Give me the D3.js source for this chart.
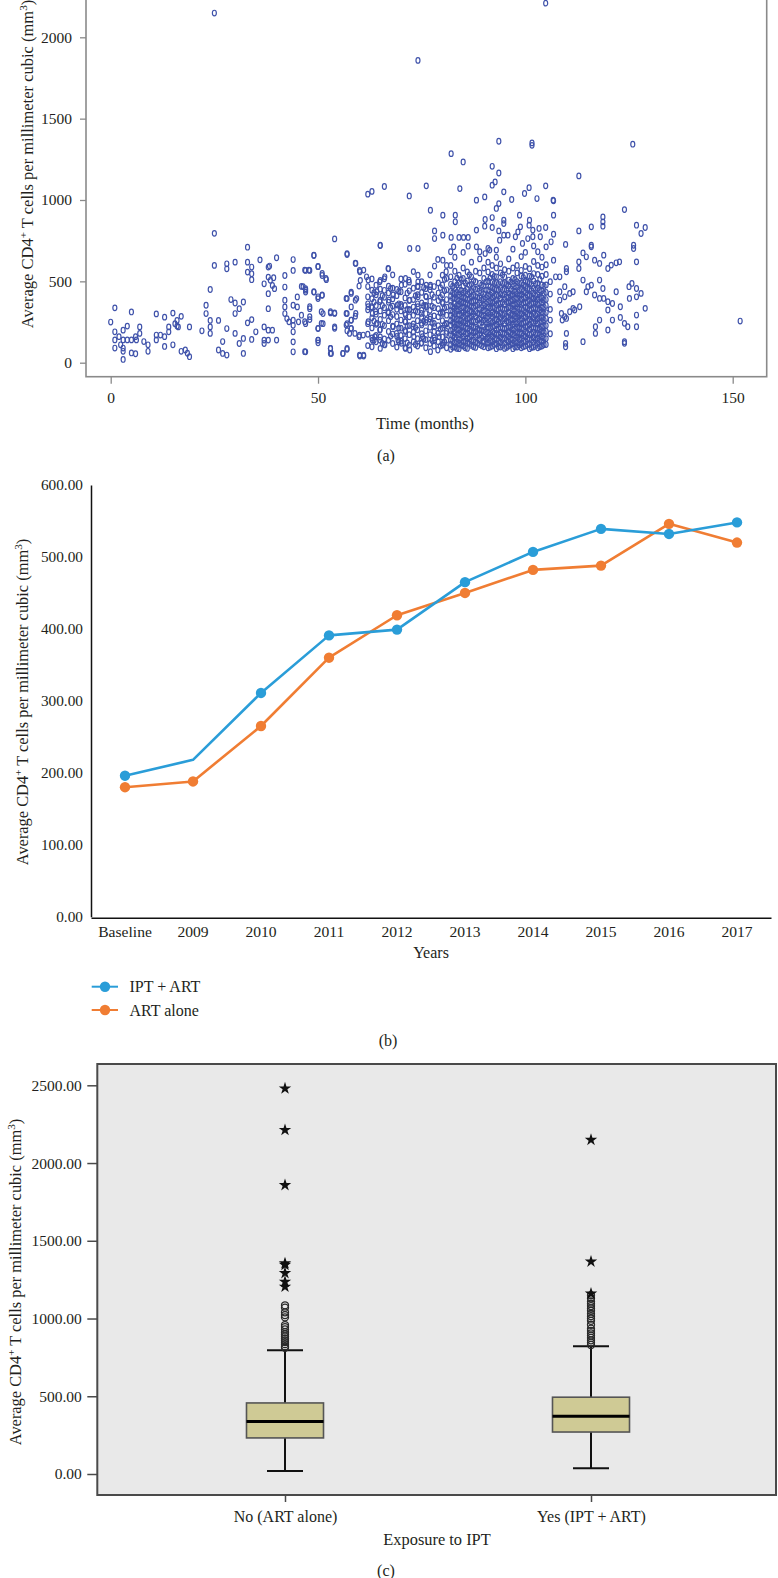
<!DOCTYPE html>
<html><head><meta charset="utf-8">
<script src="https://cdn.jsdelivr.net/npm/d3@7"></script>
<style>
html,body{margin:0;padding:0;background:#fff;}
svg{display:block;}
text{font-family:"Liberation Serif","Times New Roman",serif;fill:#231f20;}
</style>
</head><body>
<svg id="chart" width="778" height="1578"></svg>
<script>
// ---------------- DATA ----------------
// Panel (a): scatter of average CD4 vs time (months)
const scatterTicksX = [0, 50, 100, 150];
const scatterTicksY = [0, 500, 1000, 1500, 2000];
const scatterSparse = [
[0,250],[1,337],[1,190],[1,140],[1,90],[2,160],[2.4,110],[3,200],[3,140],[3,90],[3,20],[3,70],[4,225],[4,140],[5,312],[5,140],[5,60],[6,160],[6,55],[6.2,140],[7,220],[7,180],[8,130],[9,110],[9,70],[11,300],[11,170],[11,140],[12,170],[13,160],[13,280],[13,100],[14,190],[14,220],[15,305],[15,110],[15.5,240],[16,260],[16,225],[16.3,220],[17,285],[17,70],[18,78],[18.5,58],[19,37],[19,220],
[22,196],[23,353],[23,302],[24,450],[24,260],[24,220],[24,180],[25,795],[25,598],[26,78],[26,260],[27,130],[27,57],[28,608],[28,577],[28,210],[28,47],[29,388],[30,367],[30,302],[30,618],[30,180],[31,332],[31,118],[32,373],[32,149],[32,57],[33,710],[33,618],[33,557],[33,245],[34,588],[34,547],[34,510],[34,265],[34,143],[35,190],[36,632],[37,485],[37,220],[37,139],[37,118],[38,588],[38,526],[38,424],[38,332],[38,200],[38,139],[38.3,594],[38.5,506],[39,475],[39.3,522],[39,200],[39.5,455],[40,645],[40,139],
[42,536],[42,465],[42,384],[42,343],[42,302],[42.5,271],[43,251],[44,634],[44,567],[44,353],[44,261],[44,230],[44,190],[44,128],[44,67],[45,404],[45,343],[45.3,251],[46,292],[46,469],[47,455],[47,567],[47,434],[47,240],[47,67],[48,567],[48,332],[48,265],[49,659],[49,434],[50,592],[50,394],[50,210],[50,139],[50,122],[51,414],[51,536],[51.2,302],[51.2,240],[52,510],[53,306],[53,88],[53,57],[54,761],[54,306],[54,220],[56,57],[57,665],[57,394],[57,302],[57,240],[57,196],[57,88],[58,434],[58,343],[58,261],[58,210],[59,612],[59,384],[59,286],[59.3,394],[60,567],[60.2,506],[60,169],[60,47],
[46.8,569],[47.8,569],[50,590],[51,549],[51.9,518],[57,671],[59.1,610],[60.1,559],[61,569],[61.7,528],[62.1,508],[64.9,497],[66.1,528],[66.9,579],[59.9,471],[64.2,436],[67.1,385],[68.1,416],[70.1,477],[71.1,518],[71.9,508],[74.1,538],[74.1,497],[76.1,477],[77.1,477],[78.1,594],[78.9,635],[80.1,630],[80.9,559],[46.4,467],[47,446],[49,436],[50,405],[51,416],[48,344],[48,283],[46.8,252],[50,211],[50.8,313],[50.8,242],[53,313],[54,303],[54,211],[50,139],[46.8,68],[53,88],[53.2,57],[56,57],[57,82],[60.1,41],[61,41],[56.8,395],[58,426],[56.8,303],[58,262],[59.1,303],[56.8,231],[58,211],[57.6,180],[58.9,180],[59.9,160],[60.9,170],[62.1,252],[62.1,344],[62.9,344],[63.1,303],[63.9,313],[64.9,375],[64.2,242],[64.9,201],[63.1,139],[63.7,160],[64.9,139],[66.1,109],[66.9,313],[68.1,221],[68.9,180],[69.3,139],[70.1,119],[71.1,88],[72.1,78],[69.1,354],[70.1,344],[71.1,293],[71.1,252],[71.1,191],[72.1,385],[72.1,323],[72.9,221],[73.1,160],[74.1,467],[74.1,405],[74.1,344],[74.9,303],[74.9,242],[75.2,160],[74.9,119],[76.1,405],[76.1,344],[76.1,262],[77.1,467],[77.1,283],[77.1,68],[78.1,221],[78.9,78],[78.1,139],[79.2,160],[80.1,303],[80.1,364],[80.1,119],[80.9,242],[80.9,180],
[62,1036],[63,1053],[66,1083],[65,720],[67,577],[66,516],[65,506],[61,47],[93.6,1361],[101.6,1351],[101.6,1336],[82.1,1285],[85,1234],[92,1207],[93.6,1166],[92.7,1111],[92,1091],[84.2,1070],[76.1,1087],[72,1025],[94.8,1050],[90.2,1019],[88.2,999],[96.7,1003],[99.8,1040],[100.9,1076],[104.9,1087],[102.8,1009],[106.8,995],[93.6,978],[93,948],[77.1,937],[80.1,907],[83.1,907],[83.1,866],[90.3,880],[92,892],[94.8,876],[94.8,855],[98.6,907],[101,876],[100.9,845],[101.8,815],[103.3,825],[104.9,831],[106.8,907],[106.8,790],[88.2,815],[90.2,839],[92,831],[93.6,810],[95.8,784],[94.8,784],[78.1,810],[78.1,763],[80.1,784],[82.1,770],[84,770],[85.1,770],[86.2,770],[86.2,716],[72.1,702],[74.1,702],[65,722],[49,661],[82,682],[82.7,712],[88.2,712],[89,682],[90.3,671],[91.4,692],[93,692],[93.8,753],[97.6,774],[98.2,804],[98.8,835],[99.3,733],[100.6,763],[101.8,774],[103.6,774],[105,712],[106.8,630],[107.3,528],[106.2,743],[112.9,1148],[125.9,1343],[25,2149],[74.1,1858],[104.9,2210],
[106.7,999],[109.7,727],[112.9,810],[115.9,835],[118.7,896],[118.7,866],[118.7,839],[123.9,941],[126.8,845],[127.9,794],[128.9,831],[126.1,722],[126.1,702],[126.8,620],[115.9,712],[115.9,722],[113.9,675],[114.7,651],[116.7,630],[117.9,610],[118.9,661],[119.9,579],[120.7,600],[121.9,614],[122.7,620],[112.9,620],[112.9,579],[109.9,559],[109.9,579],[108.3,528],[113.9,508],[115.1,467],[115.9,477],[114.7,436],[116.7,416],[117.9,508],[118.7,456],[118.9,395],[117.9,395],[119.9,375],[119.9,324],[121,364],[121.9,436],[122.9,344],[125,467],[125.7,487],[126.8,456],[127.9,426],[126.8,405],[128.9,334],[126.8,293],[125.1,395],[109.5,467],[109.5,405],[110.7,426],[111.5,436],[113.1,344],[111.9,324],[110.7,313],[109.5,283],[108.7,303],[108.9,262],[109.9,272],[111.5,334],[108.3,436],[108.3,385],[109.9,180],[109.7,119],[109.7,98],[113.9,129],[116.9,221],[116.9,180],[117.9,262],[119.9,201],[121,262],[122.9,278],[123.9,242],[124.7,221],[123.9,129],[123.9,119],[126.8,221],[151.8,256]
];
// dense region: [month, [CD4 values read down the column]]
const scatterDense = [
[62,[105,175,240,325,362,405,468]],
[63,[98,152,214,276,338,393,446,515]],
[63.5,[138,256,372,430]],
[64,[128,168,236,298,352,417,476]],
[65,[88,158,204,266,318,384,452]],
[65.5,[118,236,352,412]],
[66,[112,146,228,292,338,402,445]],
[67,[138,192,258,306,372,428,470]],
[67.5,[162,282,338,456]],
[68,[118,176,224,296,348,392,458,540]],
[69,[96,162,238,284,328,412,450]],
[69.5,[128,214,362,438]],
[70,[132,168,212,262,318,358,436,515]],
[71,[92,148,198,252,302,352,398,482]],
[71.5,[122,226,328,428]],
[72,[108,172,228,282,328,382,442,495]],
[73,[128,188,238,292,342,388,458,560]],
[73.5,[112,216,318,412]],
[74,[102,148,202,258,312,362,418,470]],
[75,[122,178,232,278,322,368,432,498]],
[75.5,[146,256,352,462]],
[76,[92,142,196,248,302,352,408,455]],
[77,[118,172,218,268,322,378,448,540]],
[77.5,[136,246,346,418]],
[78,[102,152,192,242,288,338,402,468]],
[79,[128,182,228,282,332,382,428,490]],
[79.5,[102,206,306,402,462]],
[80,[108,158,212,258,312,372,418,478,538]],
[80.5,[128,232,336,442,512]],
[81,[92,138,192,238,292,342,388,448,518,598]],
[82,[82,112,138,172,198,232,258,292,318,352,378,412,438,482,528,598]],
[82.5,[95,135,165,205,245,275,315,345,395,430,470]],
[83,[96,122,158,182,218,242,278,302,338,362,398,422,462,498,562,648]],
[83.5,[88,128,172,208,232,268,318,352,388,432,478,520]],
[84,[86,118,142,178,202,238,262,298,322,358,382,418,448,492,538]],
[84.5,[108,148,188,226,262,292,336,372,406,444,512]],
[85,[102,128,162,188,222,248,282,308,342,368,402,428,472,518,582,678]],
[85.5,[92,134,176,214,256,296,322,364,396,438,490]],
[86,[88,122,148,182,208,242,268,302,328,362,388,422,452,502,558]],
[86.5,[116,156,196,236,276,316,352,394,432,476,540]],
[87,[106,132,168,192,228,252,288,312,348,372,408,438,482,528,618]],
[87.5,[98,140,182,218,258,298,338,378,418,462,505]],
[88,[94,128,158,192,218,252,282,318,348,382,408,452,498,562]],
[88.5,[120,168,208,262,304,356,402,455]],
[89,[112,138,178,202,242,268,302,328,368,398,442,488,552,638]],
[89.5,[104,152,196,248,292,338,384,432,478]],
[90,[98,132,162,198,222,262,288,322,352,392,422,472,518,582]],
[90.5,[116,146,188,236,276,318,362,402,448,496]],
[91,[92,122,158,182,218,242,282,308,342,372,412,448,502,558,618,702]],
[91.5,[96,136,174,212,256,296,334,378,418,466,520]],
[92,[102,128,162,188,222,248,282,308,342,368,402,428,462,498,542,598]],
[92.5,[112,144,182,226,262,298,336,376,412,452,488,530]],
[93,[86,118,142,178,202,238,262,298,322,358,382,418,448,492,528,582,648]],
[93.5,[98,134,172,208,252,288,326,364,408,446,482]],
[94,[96,122,158,182,218,242,278,302,338,362,398,422,462,498,552,608]],
[94.5,[106,142,176,214,256,292,332,372,414,448,488,540]],
[95,[88,122,148,182,208,242,268,302,328,362,388,422,452,492,528,572]],
[95.5,[94,138,172,212,254,286,328,374,406,446,482]],
[96,[102,128,162,188,222,248,282,308,342,368,402,428,472,508,562,638]],
[96.5,[110,146,184,222,262,296,338,378,414,452,496]],
[97,[86,118,142,178,202,238,262,298,322,358,382,418,442,482,518,582,698]],
[97.5,[96,132,168,208,248,286,318,358,396,436,472,512]],
[98,[96,122,158,182,218,242,278,302,338,362,398,422,462,498,552,598]],
[98.5,[108,142,178,218,258,292,332,372,412,446,488]],
[99,[92,118,152,178,212,238,272,298,332,358,392,418,452,488,532,568,652]],
[99.5,[98,134,166,204,246,286,322,366,404,438,476,524]],
[100,[102,128,162,188,222,248,282,308,342,368,402,428,468,502,538,592,678]],
[100.5,[112,146,182,222,258,298,336,376,416,456,496]],
[101,[86,112,148,172,208,232,268,292,328,352,388,412,452,488,532,578]],
[101.5,[94,138,176,216,252,288,326,364,402,442,482,528]],
[102,[96,128,152,188,212,248,272,308,332,368,392,428,458,502,548,622,718]],
[102.5,[106,140,174,212,256,292,334,374,412,448,486]],
[103,[92,118,152,178,212,238,272,298,332,358,392,418,458,488,542,598,682]],
[103.5,[98,136,172,206,248,284,324,364,404,446,512]],
[104,[102,132,158,192,218,252,278,312,338,372,398,442,478,532,588,648]],
[104.5,[110,150,186,226,262,302,342,384,426,470]],
[105,[112,148,192,228,272,308,352,388,432,478,542,602]],
[106,[178,262,328,422,498]]
];

// Panel (b): average CD4 by year
const years = ["Baseline","2009","2010","2011","2012","2013","2014","2015","2016","2017"];
const iptArt = [196, 218, 311, 391, 399, 465, 507, 539, 532, 548];
const artAlone = [180, 188, 265, 360, 419, 450, 482, 488, 546, 520];
const iptMarkerShown = [true, false, true, true, true, true, true, true, true, true];
const lineTicksY = [0, 100, 200, 300, 400, 500, 600];
const seriesNames = ["IPT + ART", "ART alone"];

// Panel (c): boxplots by exposure to IPT
const groups = ["No (ART alone)", "Yes (IPT + ART)"];
const boxStats = [ // [lowerWhisker, Q1, median, Q3, upperWhisker]
  [19, 232, 337, 457, 796],
  [37, 270, 371, 494, 822]
];
const outlierCircles = [
  [812,822,835,848,860,872,885,898,912,930,945,958,1008,1022,1040,1070,1085],
  [830,845,860,875,890,905,920,935,960,985,1000,1015,1030,1050,1065,1080,1095,1110,1130,1150]
];
const outlierStars = [
  [1205,1237,1292,1345,1355,1858,2213,2480],
  [1160,1366,2149]
];
const boxTicksY = [0, 500, 1000, 1500, 2000, 2500];

// ---------------- DRAW ----------------
const svg = d3.select("#chart");
const blue = "#2a9dd8", orange = "#f07d33";

function yTitle(g, x, y, size){
  const t = g.append("text").attr("transform", `translate(${x},${y}) rotate(-90)`)
    .attr("text-anchor","middle").attr("dy","0.35em").style("font-size", size+"px");
  t.append("tspan").text("Average CD4");
  t.append("tspan").attr("baseline-shift","super").style("font-size","68%").text("+");
  t.append("tspan").text(" T cells per millimeter cubic (mm");
  t.append("tspan").attr("baseline-shift","super").style("font-size","68%").text("3");
  t.append("tspan").text(")");
}

// ===== Panel (a) =====
{
  const g = svg.append("g");
  const x = d3.scaleLinear().domain([0,150]).range([110.7, 732.7]);
  const y = d3.scaleLinear().domain([0,2000]).range([362.7, 37.3]);
  const frameL = 86, frameR = 766.7, frameB = 376.7;
  const pts = scatterSparse.concat(scatterDense.flatMap(([m, vals]) => vals.map(v => [m, v])));
  g.append("g").selectAll("ellipse").data(pts).join("ellipse")
    .attr("cx", d => x(d[0])).attr("cy", d => y(d[1]))
    .attr("rx", 2).attr("ry", 2.8)
    .attr("fill","none").attr("stroke","#3f52aa").attr("stroke-width",1.2);
  g.append("rect").attr("x",frameL).attr("y",-20).attr("width",frameR-frameL).attr("height",frameB+20)
    .attr("fill","none").attr("stroke","#8a8a8a").attr("stroke-width",1.6);
  const ay = g.append("g").attr("transform",`translate(${frameL},0)`)
    .call(d3.axisLeft(y).tickValues(scatterTicksY).tickSize(6).tickPadding(8).tickFormat(d3.format("d")));
  ay.select(".domain").remove();
  ay.selectAll("line").attr("stroke","#8a8a8a").attr("stroke-width",1.3);
  ay.selectAll("text").style("font-size","15.5px").style("font-family",'"Liberation Serif",serif').attr("fill","#231f20");
  const ax = g.append("g").attr("transform",`translate(0,${frameB})`)
    .call(d3.axisBottom(x).tickValues(scatterTicksX).tickSize(7).tickPadding(8.5).tickFormat(d3.format("d")));
  ax.select(".domain").remove();
  ax.selectAll("line").attr("stroke","#8a8a8a").attr("stroke-width",1.3);
  ax.selectAll("text").style("font-size","15.5px").style("font-family",'"Liberation Serif",serif').attr("fill","#231f20");
  g.append("text").attr("x",425).attr("y",423).attr("dy","0.35em").attr("text-anchor","middle")
    .style("font-size","16.5px").text("Time (months)");
  yTitle(g, 27, 164, 16.5);
  g.append("text").attr("x",386).attr("y",455).attr("dy","0.35em").attr("text-anchor","middle")
    .style("font-size","16px").text("(a)");
}

// ===== Panel (b) =====
{
  const g = svg.append("g");
  const x = d3.scaleBand().domain(years).range([91, 771]);
  const y = d3.scaleLinear().domain([0,600]).range([916.7, 485]);
  const cx = d => x(d) + x.bandwidth()/2;
  const ay = g.append("g").attr("transform","translate(91,0)")
    .call(d3.axisLeft(y).tickValues(lineTicksY).tickSize(0).tickPadding(8).tickFormat(d3.format(".2f")));
  ay.select(".domain").attr("stroke","#111").attr("stroke-width",1.5);
  ay.selectAll("text").style("font-size","15.3px").style("font-family",'"Liberation Serif",serif').attr("fill","#231f20");
  const ax = g.append("g").attr("transform","translate(0,917.7)")
    .call(d3.axisBottom(x).tickSize(0).tickPadding(8.5));
  ax.select(".domain").attr("stroke","#111").attr("stroke-width",1.5);
  ax.selectAll("text").style("font-size","15.6px").style("font-family",'"Liberation Serif",serif').attr("fill","#231f20");
  const line = d3.line().x((d,i) => cx(years[i])).y(d => y(d));
  [[artAlone, orange, null],[iptArt, blue, iptMarkerShown]].forEach(([vals, col, shown]) => {
    g.append("path").datum(vals).attr("d", line).attr("fill","none")
      .attr("stroke", col).attr("stroke-width", 2.6).attr("stroke-linejoin","round");
    g.append("g").selectAll("circle").data(vals.map((v,i)=>({v,i})).filter(d => !shown || shown[d.i]))
      .join("circle").attr("cx", d => cx(years[d.i])).attr("cy", d => y(d.v)).attr("r", 5.2).attr("fill", col);
  });
  g.append("text").attr("x",431).attr("y",952.7).attr("dy","0.35em").attr("text-anchor","middle")
    .style("font-size","16px").text("Years");
  yTitle(g, 22, 702, 16.4);
  // legend
  const leg = [[seriesNames[0], blue, 986.7],[seriesNames[1], orange, 1010]];
  leg.forEach(([name, col, ly]) => {
    g.append("line").attr("x1",91.7).attr("x2",118).attr("y1",ly).attr("y2",ly).attr("stroke",col).attr("stroke-width",2);
    g.append("circle").attr("cx",105).attr("cy",ly).attr("r",5.2).attr("fill",col);
    g.append("text").attr("x",129.5).attr("y",ly).attr("dy","0.35em").style("font-size","16px").text(name);
  });
  g.append("text").attr("x",388).attr("y",1040).attr("dy","0.35em").attr("text-anchor","middle")
    .style("font-size","16px").text("(b)");
}

// ===== Panel (c) =====
{
  const g = svg.append("g");
  const L = 97.3, R = 776, T = 1064, B = 1495;
  const x = d3.scalePoint().domain(groups).range([285, 591]);
  const y = d3.scaleLinear().domain([0,2500]).range([1474, 1085.3]);
  g.append("rect").attr("x",L).attr("y",T).attr("width",R-L).attr("height",B-T).attr("fill","#e9e9e9");
  const bw = 77, cap = 36;
  groups.forEach((grp, i) => {
    const [lw, q1, med, q3, uw] = boxStats[i];
    const cx = x(grp);
    g.append("line").attr("x1",cx).attr("x2",cx).attr("y1",y(q3)).attr("y2",y(uw)).attr("stroke","#111").attr("stroke-width",2);
    g.append("line").attr("x1",cx).attr("x2",cx).attr("y1",y(q1)).attr("y2",y(lw)).attr("stroke","#111").attr("stroke-width",2);
    [lw, uw].forEach(v => g.append("line").attr("x1",cx-cap/2).attr("x2",cx+cap/2).attr("y1",y(v)).attr("y2",y(v))
      .attr("stroke","#111").attr("stroke-width",2));
    g.append("rect").attr("x",cx-bw/2).attr("y",y(q3)).attr("width",bw).attr("height",y(q1)-y(q3))
      .attr("fill","#cfca95").attr("stroke","#555").attr("stroke-width",1.6);
    g.append("line").attr("x1",cx-bw/2).attr("x2",cx+bw/2).attr("y1",y(med)).attr("y2",y(med)).attr("stroke","#000").attr("stroke-width",3);
    g.append("g").selectAll("circle").data(outlierCircles[i]).join("circle")
      .attr("cx",cx).attr("cy",d=>y(d)).attr("r",3.5).attr("fill","none").attr("stroke","#2a2a2a").attr("stroke-width",1.3);
    g.append("g").selectAll("path").data(outlierStars[i]).join("path")
      .attr("transform",d=>`translate(${cx},${y(d)})`).attr("d", d3.symbol(d3.symbolStar, 48)).attr("fill","#111");
  });
  g.append("rect").attr("x",L).attr("y",T).attr("width",R-L).attr("height",B-T)
    .attr("fill","none").attr("stroke","#4a4a4a").attr("stroke-width",2);
  const ay = g.append("g").attr("transform",`translate(${L},0)`)
    .call(d3.axisLeft(y).tickValues(boxTicksY).tickSize(10).tickPadding(5.5).tickFormat(d3.format(".2f")));
  ay.select(".domain").remove();
  ay.selectAll("line").attr("stroke","#4a4a4a").attr("stroke-width",1.5);
  ay.selectAll("text").style("font-size","15.5px").style("font-family",'"Liberation Serif",serif').attr("fill","#231f20");
  const ax = g.append("g").attr("transform",`translate(0,${B})`)
    .call(d3.axisBottom(x).tickSize(7).tickPadding(9));
  ax.select(".domain").remove();
  ax.selectAll("line").attr("stroke","#4a4a4a").attr("stroke-width",1.5);
  ax.selectAll("text").style("font-size","16px").style("font-family",'"Liberation Serif",serif').attr("fill","#231f20");
  g.append("text").attr("x",437).attr("y",1539).attr("dy","0.35em").attr("text-anchor","middle")
    .style("font-size","16.4px").text("Exposure to IPT");
  yTitle(g, 15, 1282, 16.4);
  g.append("text").attr("x",386).attr("y",1570).attr("dy","0.35em").attr("text-anchor","middle")
    .style("font-size","16px").text("(c)");
}
</script>
</body></html>
